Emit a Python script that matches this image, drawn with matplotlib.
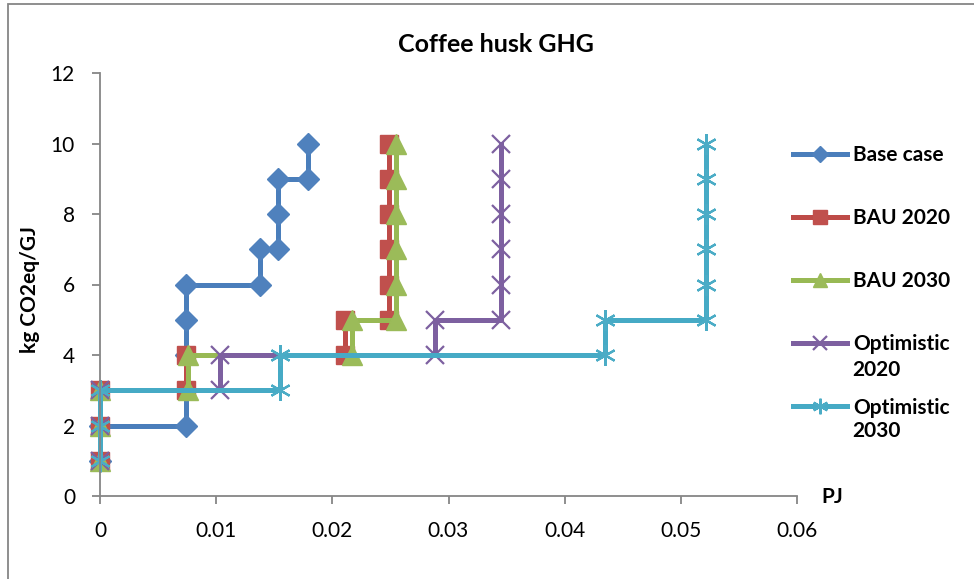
import matplotlib.pyplot as plt
import matplotlib.patches as mpatches

plt.rcParams['font.family'] = ['Lato', 'DejaVu Sans']

# data: (PJ, kg CO2eq/GJ)
base_x = [0, 0, 0.0074, 0.0074, 0.0074, 0.0074, 0.0074, 0.0138, 0.0138, 0.01535, 0.01535, 0.01535, 0.0179, 0.0179]
base_y = [1, 2, 2, 3, 4, 5, 6, 6, 7, 7, 8, 9, 9, 10]

bau20_x = [0, 0, 0, 0.0074, 0.0074, 0.0211, 0.0211, 0.0249, 0.0249, 0.0249, 0.0249, 0.0249, 0.0249]
bau20_y = [1, 2, 3, 3, 4, 4, 5, 5, 6, 7, 8, 9, 10]

bau30_x = [0, 0, 0, 0.0076, 0.0076, 0.0217, 0.0217, 0.0255, 0.0255, 0.0255, 0.0255, 0.0255, 0.0255]
bau30_y = [1, 2, 3, 3, 4, 4, 5, 5, 6, 7, 8, 9, 10]

opt20_x = [0, 0, 0, 0.0103, 0.0103, 0.0288, 0.0288, 0.0345, 0.0345, 0.0345, 0.0345, 0.0345, 0.0345]
opt20_y = [1, 2, 3, 3, 4, 4, 5, 5, 6, 7, 8, 9, 10]

opt30_x = [0, 0, 0, 0.0155, 0.0155, 0.0435, 0.0435, 0.0522, 0.0522, 0.0522, 0.0522, 0.0522, 0.0522]
opt30_y = [1, 2, 3, 3, 4, 4, 5, 5, 6, 7, 8, 9, 10]

fig = plt.figure(figsize=(9.74, 5.79), dpi=100)
ax = fig.add_axes([100/974, 1 - 496/579, 697/974, 423/579])

lw = 3.6
ax.plot(base_x, base_y, '-', color='#4A7EBB', lw=lw, marker='D', ms=11,
        mfc='#4F81BD', mec='#4F81BD', label='Base case', clip_on=False)
ax.plot(bau20_x, bau20_y, '-', color='#BE4B48', lw=lw, marker='s', ms=13,
        mfc='#C0504D', mec='#C0504D', label='BAU 2020', clip_on=False)
ax.plot(bau30_x, bau30_y, '-', color='#98B954', lw=lw, marker='^', ms=14,
        mfc='#9BBB59', mec='#9BBB59', label='BAU 2030', clip_on=False)
ax.plot(opt20_x, opt20_y, '-', color='#7D60A0', lw=lw, marker='x', ms=13, mew=1.6,
        mec='#7D60A0', label='Optimistic', clip_on=False)
ax.plot(opt30_x, opt30_y, '-', color='#46AAC5', lw=lw, marker=(6, 2, 0), ms=15, mew=1.6,
        mec='#4BACC6', label='Optimistic', clip_on=False)

ax.set_xlim(0, 0.06)
ax.set_ylim(0, 12)
ax.set_xticks([0, 0.01, 0.02, 0.03, 0.04, 0.05, 0.06])
ax.set_xticklabels(['0', '0.01', '0.02', '0.03', '0.04', '0.05', '0.06'])
ax.set_yticks(range(0, 13, 2))
for s in ['top', 'right']:
    ax.spines[s].set_visible(False)
for s in ['left', 'bottom']:
    ax.spines[s].set_color('#868686')
    ax.spines[s].set_linewidth(1.3)
ax.tick_params(axis='both', direction='out', length=6, width=1.3, color='#868686',
               labelsize=15)
ax.tick_params(axis='x', pad=12)
ax.tick_params(axis='y', pad=12)

fig.text(496/974, 1 - 45/579, 'Coffee husk GHG', ha='center', va='center',
         fontsize=18, fontweight='bold')
fig.text(30/974, 1 - 290/579, 'kg CO2eq/GJ', ha='center', va='center',
         rotation=90, fontsize=15, fontweight='bold')
fig.text(832/974, 1 - 497/579, 'PJ', ha='center', va='center',
         fontsize=15, fontweight='bold')

leg = ax.legend(loc='upper left', bbox_to_anchor=(793/974, 1 - 145/579),
                bbox_transform=fig.transFigure, frameon=False, borderaxespad=0,
                borderpad=0, prop={'weight': 'bold', 'size': 15}, handlelength=2.6,
                handletextpad=0.3, labelspacing=2.07, markerscale=0.75)
fig.text(852/974, 1 - 370/579, '2020', ha='left', va='center',
         fontsize=15, fontweight='bold')
fig.text(852/974, 1 - 431/579, '2030', ha='left', va='center',
         fontsize=15, fontweight='bold')

fig.patches.append(mpatches.Rectangle((8/974, -0.1), 1.1, 1 - 4/579 + 0.1,
                   transform=fig.transFigure, fill=False,
                   edgecolor='#868686', lw=1.3))

fig.savefig('out.png', dpi=100)
